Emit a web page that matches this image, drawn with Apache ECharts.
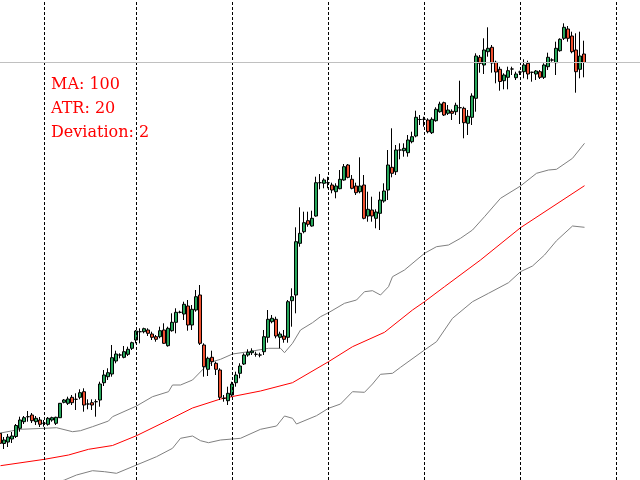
<!DOCTYPE html>
<html>
<head>
<meta charset="utf-8">
<script src="https://cdn.jsdelivr.net/npm/echarts@6/dist/echarts.min.js"></script>
<style>
html,body{margin:0;padding:0;background:#fff;}
#chart{width:640px;height:480px;}
</style>
</head>
<body>
<div id="chart"></div>
<script>
// Candle values (price units), one per bar, bar index 0..146
const opens = [46.7,36.5,38,41,43.5,51.7,58.3,63.3,65,58.3,
60,56.7,55.7,60,56.7,62.3,77.7,76.7,82.7,80.7,
82.7,88.3,76,77.3,78.3,80,97.3,103.3,106,119,
125,122.7,125.7,131.7,140,148.3,148.3,150,146,143.3,
143.3,150,134.3,149.3,157.7,167.7,166,174,155,170,
185,135,110.7,122.7,116.7,110,81.7,79.3,85,97.3,
106.7,116,125,127.3,125.7,125,128.3,142.7,158.3,160.7,
142.7,144,142.7,179.3,185,236.7,248.3,259.3,254,264,
297.3,296.7,297.3,295,288.3,291.3,300,315,300.7,294,
288.3,295,264,270,261.7,266.7,279,290,312.7,308.3,
330,329.3,327.3,338.3,344,360.5,360.7,360,347.3,359.3,
368.3,377.3,366.7,368.7,368.3,372.3,371.7,356.7,362.7,381.7,
422.7,415,428.3,432.7,417.7,410.7,399.3,402.7,411,402.3,
408,408.3,416.7,407.7,406,408.3,402.7,413.3,420,417.3,
429.3,441.7,451,444,430,410.7,426];
const closes = [36.7,40,43,44,54.5,60,62.3,63.3,59.3,61.7,
55.7,56.7,61.7,62.3,62.7,76.7,80,81,77.3,80.7,
87.3,75,76,75,78.3,96,105,107.3,122.3,126,
125,128.3,130.7,137.3,149,148.3,151.3,146.7,142.7,140.7,
149.3,136.7,151.7,157.7,167.7,167.7,175.7,155,170.7,183.3,
136.7,113.3,121.7,118.3,110.7,82.7,81.7,86.7,96,105,
114,125,127.7,129,125.7,125,143.3,160.7,161.7,144,
146,140.7,178.3,183.3,238.3,246.7,257.3,255.7,261.7,297.3,
297.3,300,297.3,290,294,300.7,313.3,302.7,291.7,287.3,
294,261.7,270.7,264,268,280,289,315,306.7,330,
330,331.7,340,343.3,362.7,360.5,360.7,348.3,360.7,370.7,
376,365,370,366.7,374.7,372.3,357.3,363.7,384,424,
416.7,430,431.7,417,408,398.5,405,409.3,411,406,
408,415,406,407.7,409,402.7,415,422.7,420,431.7,
440.7,452.7,441.7,428.3,408.3,424,417.5];
const lows = [17.3,31,33,37,42,48.3,56,58.3,57,55,
53,53.3,54.3,58.3,55,62,76.7,75,75,70,
80.7,68.3,70.7,70,63.3,73.3,94,100,103.3,116.7,
121.7,121.7,124,130,136.7,136.7,146.7,144,140,138.3,
141.7,136,133.3,148.3,146.7,166.7,160,149.3,150,168.3,
135,103.3,104,114,105,80,78.3,75,83.3,93.3,
101.7,115,123.3,125,123.3,122.7,125,137.3,156.7,141.7,
131.7,137.3,137.3,153.3,166.7,233.3,246.7,253.3,253.3,263.3,
290.7,291.7,291.7,286.7,281.7,290.7,299.3,301.7,290.7,285,
286.7,260.7,258.3,258.3,251.7,250,277.3,280,302.7,305,
320.7,323.3,323.3,336.7,342.7,355,353.3,346.7,346,358.3,
367.3,364,365,360,365,356,341.7,345,355,368.3,
407.3,406,423.3,407.3,396.7,389.3,390.7,390.7,405,400,
405,401.7,400.7,398.3,400,401,401,410,418.3,405,
428.3,440,438.3,426.7,387.3,401.7,402.7];
const highs = [48.3,43,46,48,56,63.3,64,69,67,64,
63,60,63,63.3,63.3,77,81,83.3,85,86.7,
90.7,91.7,80.7,80.7,80.7,98.3,110,111.7,135,129.3,
126.7,134,133.3,138.3,150,151.7,152.3,151.7,148.3,145,
153.3,156.7,153.3,166.7,171.7,169.3,178.3,180,175,190,
195,136.7,123.3,129.3,118.3,111.7,85,93.3,98.3,108.3,
116.7,126.7,130.7,131.7,128.3,127.3,150,170,165,163.3,
148.3,150,180,191.7,252.7,272.7,268.3,268.3,269.3,303.3,
306,301.7,303.3,297.3,296.7,310,316,316,305,297.3,
322.7,305,288.3,283.3,270.7,288.3,296.7,330,351.7,335,
336.7,336.7,345,348.3,369.3,365,363.3,361.7,362.7,372.7,
378.3,378.3,375,370.7,377.3,399.3,373.3,370,386.7,426.7,
425,441.7,452.7,435,419.3,413.3,406.7,413.3,413.3,408.3,
409.3,420.7,419.3,408.3,410,410,416.7,427.3,421.7,438.3,
441.7,456.7,454,448.3,446.7,448.3,439.3];

// Indicator lines read at sampled bar indices
const maK = [0,11,17,22,28,34,41,48,55,58,65,73,82,88,96,103,106,111,120,130,146];
const maV = [14.3,20.7,25,30.7,34.5,44.3,58,72,81,83.5,89,97.3,118.3,133.3,147.7,170,178.3,193.3,220,252.3,294.3];
const upK = [0,5,11,14,18,20,23,27,28,34,38,42,43,45,48,51,53,55,58,62,67,70,71,73,75,78,80,82,86,89,91,93,95,97,98,101,106,109,112,115,118,121,125,130,134,137,139,143,146];
const upV = [47,50.7,51.7,52.3,48.3,49.3,53.3,59,63.3,74,83.3,88.3,95,95,100,112.3,118.3,120.7,126,128.3,131.7,131.7,127.3,136.7,150,157.3,163.3,167.3,176.7,180,188.3,189.3,185,193.3,203.3,210,226.7,233.3,235,241.7,250,263.3,281.7,294,306.7,310,310.7,321.7,336.7];
const loK = [0,10,16,19,23,26,29,34,39,43,45,48,50,52,55,60,65,69,71,73,74,79,82,85,88,91,93,95,98,100,106,109,113,118,122,127,130,133,136,139,143,146];
const loV = [-20,-8,0,5,9.3,8.3,6.7,15,23.3,31.7,41.7,44,39.3,37.3,40,41.7,50.7,54,64,61.7,56,64.3,71.7,76,88.3,87.7,96,105.7,106.7,112.7,130,138.3,161.7,178.3,186.7,197.3,208.3,214,225,239.3,254,252.7];

// Vertical period separators (bar indices)
const gridK = [11,34,58,82,106,130,154];
const labels = ['MA: 100','ATR: 20','Deviation: 2'];

const categories = [];
for (let i = 0; i <= 160; i++) categories.push(String(i));

const candles = opens.map((o, i) => [o, closes[i], lows[i], highs[i]]);
const pairs = (ks, vs) => ks.map((k, i) => [k, vs[i]]);

const chart = echarts.init(document.getElementById('chart'), null, {renderer: 'canvas'});
chart.setOption({
  animation: false,
  backgroundColor: '#ffffff',
  grid: {left: 0, right: 0, top: 0, bottom: 0},
  xAxis: [
    {type: 'category', data: categories, boundaryGap: false, show: false},
    {type: 'value', min: -0.125, max: 159.875, show: false}
  ],
  yAxis: {type: 'value', min: 0, max: 480, show: false, splitLine: {show: false}},
  series: [
    {
      type: 'line', xAxisIndex: 1, data: [], z: 1, silent: true,
      markLine: {
        silent: true, symbol: ['none', 'none'], label: {show: false}, animation: false,
        data: gridK.map(k => ({xAxis: k, lineStyle: {color: '#000', type: [3, 2], width: 1}}))
          .concat([{yAxis: closes[closes.length - 1], lineStyle: {color: '#c0c0c0', type: 'solid', width: 1}}])
      }
    },
    {type: 'line', xAxisIndex: 1, data: pairs(upK, upV), symbol: 'none', z: 2,
     lineStyle: {color: '#808080', width: 1}},
    {type: 'line', xAxisIndex: 1, data: pairs(loK, loV), symbol: 'none', z: 2,
     lineStyle: {color: '#808080', width: 1}},
    {type: 'line', xAxisIndex: 1, data: pairs(maK, maV), symbol: 'none', z: 2,
     lineStyle: {color: '#ff0000', width: 1}},
    {
      type: 'candlestick', xAxisIndex: 0, data: candles, z: 3, barWidth: 3,
      itemStyle: {
        color: '#26a65b', color0: '#f05030',
        borderColor: '#000', borderColor0: '#000', borderColorDoji: '#000', borderWidth: 1
      }
    }
  ],
  graphic: labels.map((t, i) => ({
    type: 'text', x: 51, y: [85, 109, 132.5][i],
    style: {text: t, fill: '#ff0000', font: '16px "DejaVu Serif"', align: 'left', verticalAlign: 'middle'}
  }))
});
</script>
</body>
</html>
